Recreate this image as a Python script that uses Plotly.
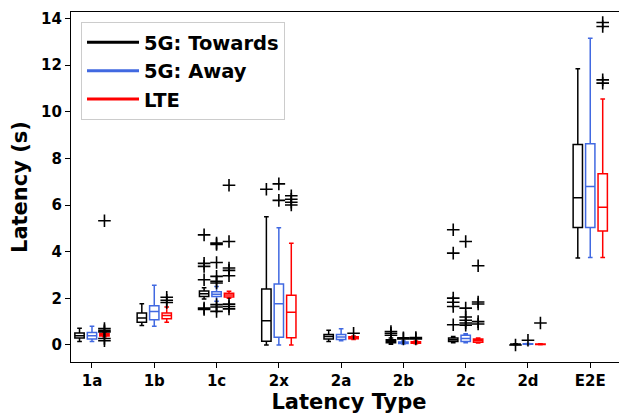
import plotly.graph_objects as go

categories = ["1a", "1b", "1c", "2x", "2a", "2b", "2c", "2d", "E2E"]
series_names = ["5G: Towards", "5G: Away", "LTE"]
series_colors = ["#000000", "#4169e1", "#ff0000"]

# Towards (black)
tow_lo = [0.15, 0.84, 1.97, 0.00, 0.15, 0.03, 0.10, 0.01, 3.73]
tow_q1 = [0.30, 0.97, 2.08, 0.16, 0.26, 0.10, 0.15, 0.02, 5.04]
tow_med = [0.40, 1.16, 2.20, 1.04, 0.36, 0.16, 0.22, 0.03, 6.31]
tow_q3 = [0.51, 1.37, 2.32, 2.40, 0.45, 0.22, 0.30, 0.04, 8.60]
tow_hi = [0.72, 1.77, 2.45, 5.50, 0.63, 0.30, 0.36, 0.05, 11.85]
tow_out = [[], [], [4.72, 3.50, 3.37, 2.80, 1.58, 1.52], [6.68], [],
           [0.42, 0.50, 0.58], [4.94, 3.94, 2.01, 1.83, 1.65, 0.87], [0.0], []]

# Away (blue)
away_lo = [0.15, 0.80, 1.87, 0.00, 0.18, 0.04, 0.10, 0.02, 3.75]
away_q1 = [0.26, 1.08, 2.08, 0.33, 0.23, 0.06, 0.15, 0.03, 5.04]
away_med = [0.40, 1.44, 2.18, 1.77, 0.34, 0.09, 0.28, 0.04, 6.80]
away_q3 = [0.54, 1.68, 2.28, 2.61, 0.45, 0.13, 0.42, 0.05, 8.63]
away_hi = [0.80, 2.56, 2.51, 5.03, 0.70, 0.17, 0.48, 0.06, 13.15]
away_out = [[], [], [4.37, 4.31, 3.54, 2.94, 2.73, 2.66, 1.73, 1.63, 1.44],
            [6.91, 6.20], [], [0.26, 0.31],
            [4.44, 1.58, 1.20, 1.06, 0.94, 0.85], [0.20], []]

# LTE (red)
lte_lo = [0.35, 0.97, 2.00, 0.00, 0.24, 0.05, 0.08, 0.01, 3.75]
lte_q1 = [0.38, 1.13, 2.06, 0.31, 0.27, 0.07, 0.12, 0.02, 4.89]
lte_med = [0.43, 1.26, 2.14, 1.40, 0.31, 0.10, 0.19, 0.03, 5.91]
lte_q3 = [0.49, 1.37, 2.22, 2.13, 0.35, 0.14, 0.26, 0.04, 7.34]
lte_hi = [0.52, 1.63, 2.30, 4.36, 0.38, 0.17, 0.30, 0.05, 10.55]
lte_out = [[5.33, 0.70, 0.62, 0.56, 0.28, 0.18], [2.05, 1.92, 1.82],
           [6.85, 4.44, 3.30, 3.20, 2.97, 1.75, 1.65, 1.55],
           [6.40, 6.25, 6.12, 6.00], [0.50], [0.26, 0.32],
           [3.40, 1.84, 1.76, 1.00, 0.90], [0.94], [13.83, 13.66, 11.37, 11.23]]

yticks = [0, 2, 4, 6, 8, 10, 12, 14]

stats = [
    (tow_lo, tow_q1, tow_med, tow_q3, tow_hi, tow_out),
    (away_lo, away_q1, away_med, away_q3, away_hi, away_out),
    (lte_lo, lte_q1, lte_med, lte_q3, lte_hi, lte_out),
]
offsets = [-0.2, 0.0, 0.2]
box_w = 0.15

fig = go.Figure()
FONT = "DejaVu Sans"

for (lo, q1, med, q3, hi, outs), name, color, off in zip(stats, series_names, series_colors, offsets):
    xs = [i + off for i in range(len(categories))]
    fig.add_trace(go.Box(
        x=xs, q1=q1, median=med, q3=q3, lowerfence=lo, upperfence=hi,
        width=box_w, whiskerwidth=0.5, boxpoints=False,
        line=dict(color=color, width=1.5), fillcolor="rgba(0,0,0,0)",
        showlegend=False, name=name,
    ))
    ox, oy = [], []
    for i, vals in enumerate(outs):
        for v in vals:
            ox.append(i + off)
            oy.append(v)
    fig.add_trace(go.Scatter(
        x=ox, y=oy, mode="markers", showlegend=False,
        marker=dict(symbol="cross-thin", size=9, color="black",
                    line=dict(color="black", width=1.6)),
    ))

for name, color in zip(series_names, series_colors):
    fig.add_trace(go.Scatter(
        x=[None], y=[None], mode="lines", name=name,
        line=dict(color=color, width=3),
    ))

# page body adds an 8px offset, so the figure is 8px smaller than the window
fig.update_layout(
    width=619, height=406,
    margin=dict(l=63, r=0, t=4, b=52, autoexpand=False),
    plot_bgcolor="white", paper_bgcolor="white",
    font=dict(family=FONT, color="black"),
    legend=dict(
        x=0.018, y=0.971, xanchor="left", yanchor="top",
        bgcolor="rgba(255,255,255,0.85)", bordercolor="#cccccc", borderwidth=1,
        font=dict(family=FONT, size=19.5, weight="bold", color="black"),
        itemwidth=52,
    ),
)
fig.update_xaxes(
    range=[-0.337, 8.59], automargin=False,
    tickvals=list(range(len(categories))), ticktext=categories,
    showline=True, linecolor="black", linewidth=1.3, mirror=True,
    ticks="outside", ticklen=5, tickcolor="black", tickwidth=1.2,
    showgrid=False, zeroline=False,
    tickfont=dict(family=FONT, size=15, weight="bold"),
    title=dict(text="Latency Type", font=dict(family=FONT, size=21, weight="bold"), standoff=9),
)
fig.update_yaxes(
    range=[-0.73, 14.28], automargin=False,
    tickvals=yticks,
    showline=True, linecolor="black", linewidth=1.3, mirror=False,
    ticks="outside", ticklen=5, tickcolor="black", tickwidth=1.2,
    showgrid=False, zeroline=False,
    tickfont=dict(family=FONT, size=15, weight="bold"),
    title=dict(text="Latency (s)", font=dict(family=FONT, size=21, weight="bold"), standoff=12),
)

fig.write_html("out.html")
